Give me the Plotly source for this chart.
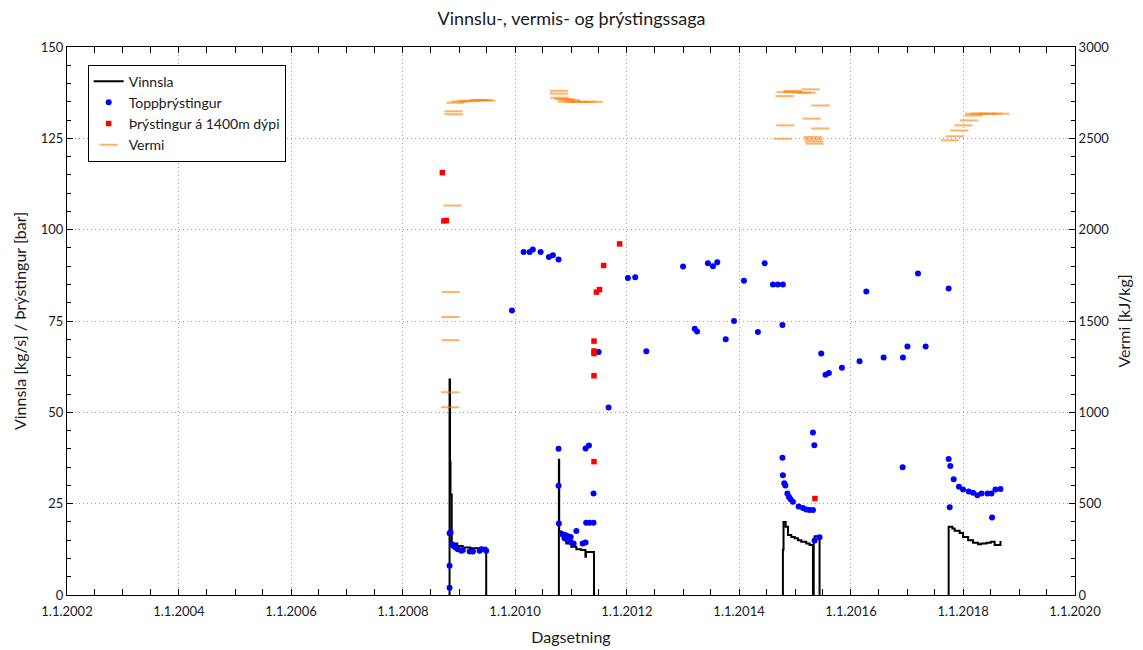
import plotly.graph_objects as go

# Production (kg/s), step series; None separates production periods
vinnsla_dates = [
    "2008-10-30", "2008-10-31", "2008-11-03", "2008-11-06", "2008-11-14", "2008-12-20",
    "2009-01-25", "2009-03-15", "2009-05-15", "2009-05-28", "2009-06-27", None,
    "2010-10-13", "2010-10-14", "2010-10-16", "2010-10-30", "2010-11-09", "2010-11-20",
    "2010-12-01", "2011-01-03", "2011-02-05", "2011-03-08", "2011-04-05", "2011-04-09",
    "2011-05-31", None,
    "2014-10-13", "2014-10-14", "2014-10-18", "2014-11-01", "2014-11-16", "2014-12-08",
    "2014-12-30", "2015-01-20", "2015-02-11", "2015-03-15", "2015-04-06", "2015-04-28",
    "2015-05-03", "2015-05-09", "2015-06-10", None,
    "2017-09-28", "2017-09-29", "2017-10-23", "2017-11-07", "2017-12-10", "2018-01-01",
    "2018-02-03", "2018-03-07", "2018-04-09", "2018-04-30", "2018-06-03", "2018-07-01",
    "2018-07-26", "2018-09-02",
]
vinnsla_values = [
    0, 59.0, 36.5, 27.5, 14.1, 13.4,
    13.0, 12.8, 12.5, 12.9, 0, None,
    0, 37.0, 17.4, 17.0, 15.9, 15.0,
    14.1, 13.2, 12.5, 12.3, 10.5, 11.8,
    0, None,
    0, 12.4, 20.0, 18.7, 16.4, 15.9,
    15.5, 15.0, 14.6, 14.1, 13.7, 0,
    14.6, 16.1, 0, None,
    0, 18.7, 18.2, 17.6, 17.0, 15.9,
    15.0, 14.3, 13.9, 14.1, 14.3, 14.6,
    13.7, 14.8,
]

# Wellhead pressure (bar)
topp_dates = [
    "2008-10-31", "2008-11-07", "2008-10-31", "2008-10-31", "2008-11-15", "2008-11-26",
    "2008-12-09", "2008-12-24", "2009-01-16", "2009-01-26", "2009-03-11", "2009-04-01",
    "2009-05-15", "2009-05-26", "2009-06-27", "2009-12-12", "2010-02-26", "2010-04-06",
    "2010-04-27", "2010-06-17", "2010-08-10", "2010-09-05", "2010-10-12", "2010-10-12",
    "2010-10-12", "2010-10-14", "2010-11-05", "2010-11-20", "2010-11-24", "2010-12-12",
    "2010-12-12", "2010-12-28", "2010-12-30", "2011-01-18", "2011-02-05", "2011-03-18",
    "2011-04-06", "2011-04-06", "2011-04-10", "2011-04-28", "2011-05-02", "2011-05-28",
    "2011-05-28", "2011-06-30", "2011-09-03", "2012-01-07", "2012-02-24", "2012-05-06",
    "2013-01-01", "2013-03-18", "2013-04-02", "2013-06-12", "2013-07-15", "2013-08-12",
    "2013-10-06", "2013-11-29", "2014-02-02", "2014-05-04", "2014-06-17", "2014-08-10",
    "2014-09-11", "2014-10-11", "2014-10-14", "2014-10-11", "2014-10-14", "2014-10-23",
    "2014-10-30", "2014-11-12", "2014-11-22", "2014-12-03", "2014-12-18", "2015-01-25",
    "2015-02-22", "2015-03-15", "2015-04-06", "2015-04-28", "2015-04-28", "2015-05-07",
    "2015-05-09", "2015-06-10", "2015-06-21", "2015-07-19", "2015-08-10", "2015-11-03",
    "2016-02-26", "2016-04-10", "2016-08-01", "2016-12-03", "2016-12-05", "2017-01-03",
    "2017-03-13", "2017-05-02", "2017-09-29", "2017-09-29", "2017-10-06", "2017-10-10",
    "2017-11-01", "2017-12-05", "2018-01-01", "2018-02-07", "2018-03-07", "2018-04-04",
    "2018-05-01", "2018-06-09", "2018-07-05", "2018-07-09", "2018-07-31", "2018-09-02",
]
topp_values = [
    16.9, 17.1, 8.0, 2.0, 13.9, 13.4,
    13.0, 12.5, 12.1, 12.3, 11.9, 11.9,
    12.1, 12.5, 12.1, 77.9, 93.9, 93.9,
    94.6, 93.9, 92.5, 93.0, 91.8, 40.0,
    29.9, 19.6, 16.6, 15.5, 16.4, 16.1,
    15.1, 14.6, 15.9, 14.1, 17.5, 14.1,
    14.4, 40.1, 19.8, 40.9, 19.8, 19.8,
    27.8, 66.5, 51.3, 86.8, 87.0, 66.7,
    89.9, 72.9, 72.1, 90.8, 90.0, 91.1,
    70.0, 75.0, 86.0, 72.0, 90.8, 85.0,
    85.0, 73.9, 85.0, 37.6, 32.8, 30.6,
    30.0, 27.8, 26.9, 26.2, 25.5, 24.2,
    23.8, 23.4, 23.3, 23.3, 44.5, 41.0,
    14.9, 15.8, 66.1, 60.3, 60.8, 62.2,
    64.0, 83.1, 65.0, 35.0, 65.0, 68.0,
    88.0, 68.0, 83.9, 37.2, 24.0, 35.3,
    31.7, 29.6, 28.9, 28.3, 28.0, 27.3,
    27.8, 27.8, 27.8, 21.2, 28.9, 29.0,
]

# Pressure at 1400 m depth (bar)
dypi_dates = [
    "2008-09-14", "2008-09-24", "2008-10-10", "2011-05-31", "2011-05-31", "2011-05-31",
    "2011-05-31", "2011-05-31", "2011-06-16", "2011-07-06", "2011-08-02", "2011-11-14",
    "2015-05-11",
]
dypi_values = [
    115.6, 102.4, 102.5, 69.5, 66.8, 66.1,
    60.0, 36.5, 82.9, 83.6, 90.2, 96.1,
    26.4,
]

# Enthalpy (kJ/kg)
vermi_dates = [
    "2008-11-05", "2008-11-05", "2008-11-07", "2008-11-07", "2008-11-07", "2008-11-20",
    "2008-11-26", "2008-11-26", "2008-12-09", "2009-01-11", "2009-02-20", "2009-03-30",
    "2009-05-08", "2009-06-09", "2009-06-28",
    "2010-10-15", "2010-10-15", "2010-10-19", "2010-11-13", "2010-12-01", "2010-12-05",
    "2010-12-30", "2011-01-20", "2011-02-25", "2011-04-10", "2011-05-30",
    "2014-10-12", "2014-10-30", "2014-10-25", "2014-11-01", "2014-12-22", "2014-12-15",
    "2015-02-15", "2015-03-18", "2015-04-13", "2015-04-20", "2015-06-16", "2015-06-16",
    "2015-04-28", "2015-05-01", "2015-05-04", "2015-05-08",
    "2017-10-06", "2017-11-06", "2017-12-07", "2018-01-03", "2018-02-10", "2018-03-11",
    "2018-03-15", "2018-04-20", "2018-06-03", "2018-07-16", "2018-08-30",
]
vermi_values = [
    1028, 1110, 1395, 1522, 1659, 2132,
    2632, 2648, 2695, 2702, 2704, 2706,
    2710, 2710, 2706,
    2745, 2760, 2722, 2715, 2713, 2700,
    2710, 2700, 2700, 2700, 2700,
    2498, 2571, 2731, 2753, 2753, 2760,
    2750, 2750, 2768, 2608, 2680, 2554,
    2507, 2495, 2483, 2471,
    2489, 2511, 2543, 2571, 2598, 2625,
    2635, 2635, 2635, 2635, 2635,
]

x_tick_dates = ["2002-01-01", "2004-01-01", "2006-01-01", "2008-01-01", "2010-01-01",
                "2012-01-01", "2014-01-01", "2016-01-01", "2018-01-01", "2020-01-01"]
x_tick_labels = ["1.1.2002", "1.1.2004", "1.1.2006", "1.1.2008", "1.1.2010",
                 "1.1.2012", "1.1.2014", "1.1.2016", "1.1.2018", "1.1.2020"]

FONT = "Lato, 'Open Sans', sans-serif"
INK = "#1a1a1a"
GRID = "#a0a0a0"
GRID_DASH = "1px,3px"

fig = go.Figure()

fig.add_trace(go.Scatter(
    x=vinnsla_dates, y=vinnsla_values, name="Vinnsla", mode="lines",
    line=dict(color="black", width=2, shape="hv"), connectgaps=False,
))
fig.add_trace(go.Scatter(
    x=topp_dates, y=topp_values, name="Toppþrýstingur", mode="markers",
    marker=dict(symbol="circle", size=6, color="#0000ff"),
))
fig.add_trace(go.Scatter(
    x=dypi_dates, y=dypi_values, name="Þrýstingur á 1400m dýpi", mode="markers",
    marker=dict(symbol="square", size=5.5, color="#ff0000"),
))
fig.add_trace(go.Scatter(
    x=vermi_dates, y=vermi_values, name="Vermi", mode="markers", yaxis="y2",
    marker=dict(symbol="line-ew", size=13, opacity=0.6,
                line=dict(color="#ff7f00", width=2)),
))

fig.update_layout(
    width=1143, height=650,
    margin=dict(l=67, r=68, t=47, b=55, autoexpand=False),
    paper_bgcolor="white", plot_bgcolor="white",
    font=dict(family=FONT, size=13, color=INK),
    title=dict(text="Vinnslu-, vermis- og þrýstingssaga", x=0.5, xanchor="center",
               y=0.972, yanchor="middle", font=dict(size=18, family=FONT, color=INK)),
    showlegend=True,
    legend=dict(x=0.0205, y=0.968, xanchor="left", yanchor="top",
                bgcolor="white", bordercolor="black", borderwidth=1,
                font=dict(size=14, family=FONT, color=INK), tracegroupgap=0),
    xaxis=dict(
        type="date", range=["2002-01-01", "2020-01-01"], automargin=False,
        tickvals=x_tick_dates, ticktext=x_tick_labels,
        showgrid=True, gridcolor=GRID, griddash=GRID_DASH, gridwidth=1,
        showline=True, linecolor="black", linewidth=1, mirror="allticks",
        ticks="inside", ticklen=6, tickcolor="black", ticklabelstandoff=4,
        minor=dict(dtick="M6", tick0="2002-01-01", ticks="inside", ticklen=4,
                   tickcolor="black", showgrid=False),
        title=dict(text="Dagsetning", font=dict(size=16), standoff=14),
        zeroline=False,
    ),
    yaxis=dict(
        range=[0, 150], tick0=0, dtick=25, automargin=False,
        showgrid=True, gridcolor=GRID, griddash=GRID_DASH, gridwidth=1,
        showline=True, linecolor="black", linewidth=1, mirror=True,
        ticks="inside", ticklen=6, tickcolor="black",
        minor=dict(dtick=5, ticks="inside", ticklen=4, tickcolor="black", showgrid=False),
        title=dict(text="Vinnsla [kg/s] / Þrýstingur [bar]", font=dict(size=16), standoff=10),
        zeroline=False,
    ),
    yaxis2=dict(
        range=[0, 3000], tick0=0, dtick=500, overlaying="y", side="right", automargin=False,
        showgrid=False, showline=True, linecolor="black", linewidth=1,
        ticks="inside", ticklen=6, tickcolor="black",
        minor=dict(dtick=100, ticks="inside", ticklen=4, tickcolor="black", showgrid=False),
        title=dict(text="Vermi [kJ/kg]", font=dict(size=16), standoff=10),
        zeroline=False,
    ),
)

fig.write_html("out.html")
